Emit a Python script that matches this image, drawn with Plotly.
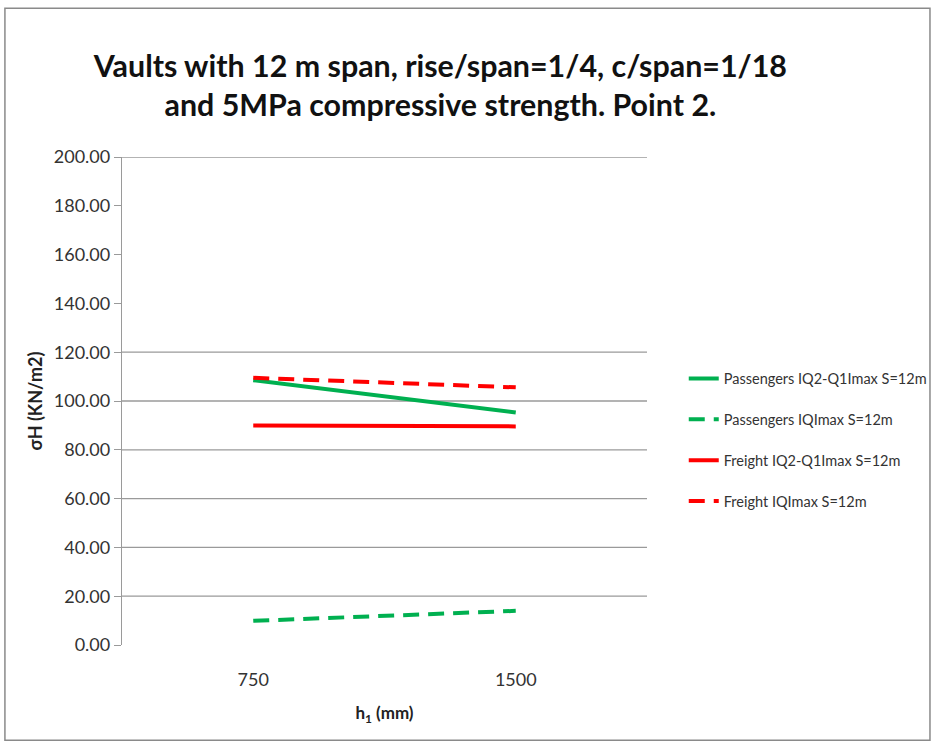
import plotly.graph_objects as go

categories = ["750", "1500"]
pass_q2q1 = [108.5, 95.3]
pass_qlmax = [9.9, 14.0]
freight_q2q1 = [90.0, 89.6]
freight_qlmax = [109.5, 105.6]
series_names = [
    "Passengers IQ2-Q1Imax S=12m",
    "Passengers IQImax S=12m",
    "Freight IQ2-Q1Imax S=12m",
    "Freight IQImax S=12m",
]
y_ticks = [0, 20, 40, 60, 80, 100, 120, 140, 160, 180, 200]
grid_values = [20, 40, 60, 80, 100, 120, 200]

GREEN = "#00B050"
RED = "#FF0000"
FONT = "Lato"

fig = go.Figure()
styles = [
    (pass_q2q1, GREEN, "solid"),
    (pass_qlmax, GREEN, "16px,9px"),
    (freight_q2q1, RED, "solid"),
    (freight_qlmax, RED, "16px,9px"),
]
for i, (vals, col, dash) in enumerate(styles):
    fig.add_trace(go.Scatter(
        x=categories, y=vals, mode="lines", name=series_names[i],
        line=dict(color=col, width=4, dash=dash),
        legendgroup=f"g{i}",
    ))

for g in grid_values:
    fig.add_shape(type="line", xref="paper", yref="y", x0=0, x1=1, y0=g, y1=g,
                  line=dict(color="#9a9a9a", width=1.3), layer="below")

# outer frame
fig.add_shape(type="rect", xref="paper", yref="paper",
              x0=-0.223, x1=1.539, y0=-0.195, y1=1.305,
              line=dict(color="#8a8a8a", width=1.5))

fig.update_layout(
    width=937, height=747,
    margin=dict(l=122, r=290, t=157, b=102, autoexpand=False),
    paper_bgcolor="white", plot_bgcolor="white",
    font=dict(family=FONT, color="#333333"),
    title=dict(
        text="Vaults with 12 m span, rise/span=1/4, c/span=1/18<br>and 5MPa compressive strength. Point 2.",
        font=dict(family=FONT, size=30.4, color="#111111", weight="bold"),
        x=0.47, xanchor="center", y=0.897, yanchor="middle",
    ),
    legend=dict(
        x=1.07, y=0.42, xanchor="left", yanchor="middle",
        font=dict(family=FONT, size=14.5, color="#333333"),
        tracegroupgap=19, bgcolor="rgba(0,0,0,0)",
    ),
    showlegend=True,
)
fig.update_xaxes(
    type="category", range=[-0.5, 1.5], showgrid=False, showline=False,
    tickfont=dict(family=FONT, size=18, color="#333333"),
    title=dict(text="h<sub>1</sub> (mm)", font=dict(family=FONT, size=17, color="#222222", weight="bold"), standoff=18),
    ticks="outside", ticklen=18, tickcolor="rgba(0,0,0,0)",
)
fig.update_yaxes(
    range=[0, 200], tickvals=y_ticks, ticktext=[f"{v:.2f}" for v in y_ticks],
    showgrid=False, showline=True, linecolor="#9a9a9a", linewidth=1.3,
    ticks="outside", ticklen=7, tickcolor="#9a9a9a",
    tickfont=dict(family=FONT, size=18, color="#333333"),
    title=dict(text="σH (KN/m2)", font=dict(family=FONT, size=18, color="#222222", weight="bold"), standoff=6),
    zeroline=False,
)

fig.write_html("out.html", config={"displayModeBar": False},
               post_script="document.body.style.margin='0px';")
